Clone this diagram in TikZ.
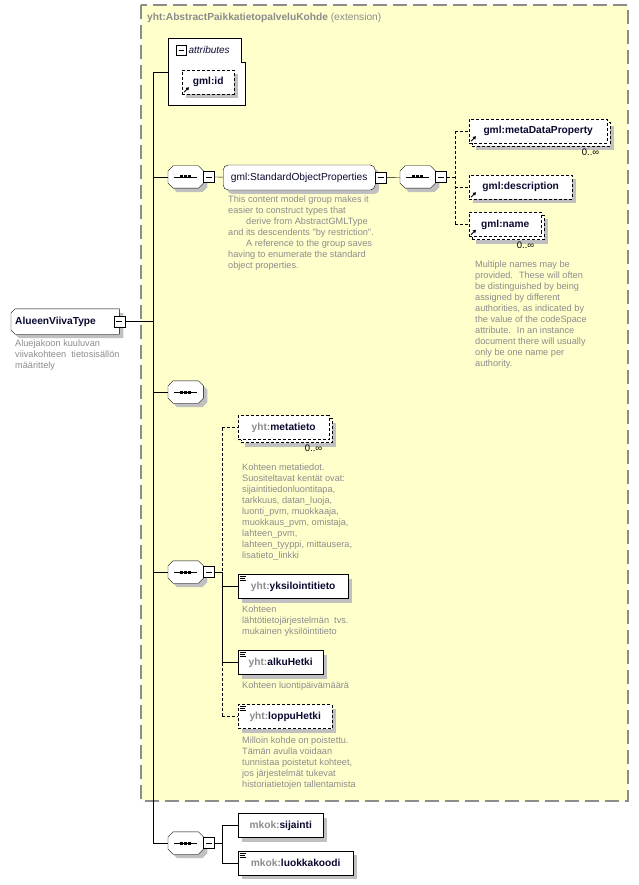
\documentclass[tikz,border=0pt]{standalone}
\usepackage{fontspec}
\setmainfont{Liberation Sans}
\newfontfamily\docfont{Liberation Sans}
\usetikzlibrary{shadows,arrows.meta}
\pgfdeclarelayer{bottom}
\pgfdeclarelayer{background}
\pgfsetlayers{bottom,background,main}
\definecolor{extyellow}{HTML}{FFFFCC}
\definecolor{extborder}{HTML}{8C8C8C}
\definecolor{shadowgray}{HTML}{C0C0C0}
\definecolor{docgray}{HTML}{8C8C8C}
\definecolor{prefixgray}{HTML}{8C8C8C}
\definecolor{namecol}{HTML}{0A0A30}
\newcommand{\pfx}[1]{\textcolor{prefixgray}{#1}}
\newcommand{\octpath}[2]{([xshift=#2]#1.north west) -- ([xshift=-#2]#1.north east) -- ([yshift=-#2]#1.north east)
  -- ([yshift=#2]#1.south east) -- ([xshift=-#2]#1.south east) -- ([xshift=#2]#1.south west)
  -- ([yshift=#2]#1.south west) -- ([yshift=-#2]#1.north west) -- cycle}
\tikzset{
  shadowed/.style={drop shadow={shadow xshift=4pt,shadow yshift=-4pt,fill=shadowgray,opacity=1}},
  multi/.style={drop shadow={shadow xshift=7pt,shadow yshift=-7pt,fill=shadowgray,opacity=1},
    copy shadow={shadow xshift=3pt,shadow yshift=-3pt,draw,fill=white,dash pattern=on 3pt off 2pt}},
  optional/.style={dash pattern=on 3pt off 2pt},
  elem/.style={draw,fill=white,anchor=west,minimum height=24pt,inner xsep=3pt,inner ysep=2pt,
    font=\fontsize{10.2}{12}\selectfont\bfseries,text=namecol},
  grp/.style={draw,fill=white,anchor=west,rounded corners=5pt,shadowed,minimum height=25pt,
    inner xsep=3pt,font=\fontsize{10.2}{12}\selectfont,text=namecol},
  typebox/.style={anchor=west,text width=100pt,align=left,inner xsep=4pt,minimum height=25pt,
    font=\fontsize{10.2}{12}\selectfont\bfseries,text=namecol},
  seqbox/.style={anchor=west,minimum width=35pt,minimum height=22pt,inner sep=0pt},
  minusbox/.style={draw,fill=white,minimum size=11pt,inner sep=0pt,anchor=west,
    path picture={\draw ([xshift=2.5pt]path picture bounding box.west) -- ([xshift=-2.5pt]path picture bounding box.east);}},
  doc/.style={anchor=north west,inner sep=0pt,align=left,font=\docfont\fontsize{9.2}{11}\selectfont,text=docgray},
  mult/.style={anchor=north east,inner sep=0pt,font=\fontsize{9.5}{11}\selectfont},
  refarrow/.style={line width=0.8pt,-{Triangle[length=3pt,width=3.5pt]}}
}
\begin{document}
\begin{tikzpicture}[x=1pt,y=-1pt,line width=0.9pt]
      \useasboundingbox (0,0) rectangle (639,885);
      \begin{pgfonlayer}{bottom}
            \draw[fill=extyellow,draw=extborder,line width=1.3pt,dash pattern=on 14pt off 6pt] (141,5) rectangle (628,801);
      \end{pgfonlayer}
      \node[anchor=west,inner sep=0pt,font=\fontsize{10.2}{12}\selectfont,text=prefixgray] (exttitle) at (147,18)
            {\textbf{yht:AbstractPaikkatietopalveluKohde} (extension)};

      \draw[fill=white] (168,38) -- (241,38) -- (241,62) -- (245,62) -- (245,105) -- (168,105) -- cycle;
      \node[minusbox,minimum size=10pt] (attrm) at (176,50) {};
      \node[anchor=west,inner sep=0pt,font=\fontsize{10}{12}\selectfont\itshape,text=namecol] (attrlbl) at ([xshift=2pt]attrm.east) {attributes};
      \coordinate (attr) at (168,72);
      \node[elem,optional,shadowed,minimum width=52pt] (gmlid) at (182,82) {gml:id};

      \node[typebox] (type) at (11,321.5) {AlueenViivaType};
      \node[doc] (typedoc) at (15,340) {Aluejakoon kuuluvan\\viivakohteen~ tietosisällön\\määrittely};

      \node[seqbox] (seq1) at (168,177) {};
      \node[seqbox] (seq1b) at (400,177) {};
      \node[seqbox] (seq2) at (168,392) {};
      \node[seqbox] (seq3) at (168,572) {};
      \node[seqbox] (seq4) at (168,843) {};
      \begin{pgfonlayer}{background}
            \fill[shadowgray,transform canvas={shift={(4pt,-4pt)}}] ([yshift=-4pt]type.north west) -- ([xshift=4pt]type.north west)
                  -- (type.north east) -- (type.south east) -- ([xshift=4pt]type.south west) -- ([yshift=4pt]type.south west) -- cycle;
            \draw[fill=white] ([yshift=-4pt]type.north west) -- ([xshift=4pt]type.north west)
                  -- (type.north east) -- (type.south east) -- ([xshift=4pt]type.south west) -- ([yshift=4pt]type.south west) -- cycle;
            \foreach \n in {seq1,seq1b,seq2,seq3,seq4} {
                  \fill[shadowgray,transform canvas={shift={(4pt,-4pt)}}] \octpath{\n}{5pt};
                  \draw[fill=white] \octpath{\n}{5pt};
                  \draw ([xshift=6pt]\n.west) -- ([xshift=-6pt]\n.east);
                  \foreach \d in {-4pt,0pt,4pt}
                        \fill ([xshift=\d]\n.center) +(-1.5pt,-1.5pt) rectangle +(1.5pt,1.5pt);
            }
      \end{pgfonlayer}
      \node[minusbox,anchor=center] (typem) at (type.east) {};
      \node[minusbox] (seq1m) at (seq1.east) {};
      \node[minusbox] (seq1bm) at (seq1b.east) {};
      \node[minusbox] (seq3m) at (seq3.east) {};
      \node[minusbox] (seq4m) at (seq4.east) {};

      \node[grp,minimum width=152pt] (group) at (223,177.5) {gml:StandardObjectProperties};
      \node[minusbox] (groupm) at (group.east) {};
      \node[doc] (groupdoc) at (228,196) {This content model group makes it\\easier to construct types that\\\hspace*{18pt}derive from AbstractGMLType\\and its descendents "by restriction".\\\hspace*{18pt}A reference to the group saves\\having to enumerate the standard\\object properties.};

      \node[elem,optional,multi,minimum width=138pt] (mdp) at (469,131) {gml:metaDataProperty};
      \node[mult] (mdpmult) at ([shift={(-8pt,-5pt)}]mdp.south east) {0..∞};
      \node[elem,optional,shadowed,minimum width=103pt] (desc) at (469,187) {gml:description};
      \node[elem,optional,multi,minimum width=72pt] (name) at (469,224.5) {gml:name};
      \node[mult] (namemult) at ([shift={(-7pt,-5pt)}]name.south east) {0..∞};
      \node[doc] (namedoc) at (475,261) {Multiple names may be\\provided.~ These will often\\be distinguished by being\\assigned by different\\authorities, as indicated by\\the value of the codeSpace\\attribute.~ In an instance\\document there will usually\\only be one name per\\authority.};

      \node[elem,optional,multi,minimum width=91pt] (meta) at (238,427.5) {\pfx{yht:}metatieto};
      \node[mult] (metamult) at ([shift={(-7pt,-5pt)}]meta.south east) {0..∞};
      \node[doc] (metadoc) at (242,464) {Kohteen metatiedot.\\Suositeltavat kentät ovat:\\sijaintitiedonluontitapa,\\tarkkuus, datan\_luoja,\\luonti\_pvm, muokkaaja,\\muokkaus\_pvm, omistaja,\\lahteen\_pvm,\\lahteen\_tyyppi, mittausera,\\lisatieto\_linkki};
      \node[elem,shadowed,minimum width=110pt] (yks) at (238,586.5) {\pfx{yht:}yksilointitieto};
      \node[doc] (yksdoc) at (242,606) {Kohteen\\lähtötietojärjestelmän~ tvs.\\mukainen yksilöintitieto};
      \node[elem,shadowed,minimum width=85pt] (alku) at (238,662.5) {\pfx{yht:}alkuHetki};
      \node[doc] (alkudoc) at (242,682) {Kohteen luontipäivämäärä};
      \node[elem,optional,shadowed,minimum width=94pt] (loppu) at (238,716.5) {\pfx{yht:}loppuHetki};
      \node[doc] (loppudoc) at (242,737) {Milloin kohde on poistettu.\\Tämän avulla voidaan\\tunnistaa poistetut kohteet,\\jos järjestelmät tukevat\\historiatietojen tallentamista};

      \node[elem,shadowed,minimum width=85pt] (sij) at (238,825.5) {\pfx{mkok:}sijainti};
      \node[elem,shadowed,minimum width=115pt] (luokka) at (238,863) {\pfx{mkok:}luokkakoodi};

      \foreach \n in {gmlid,mdp,desc,name}
            \draw[refarrow] ([shift={(2pt,2pt)}]\n.south west) -- ++(5pt,5pt);
      \foreach \n in {yks,alku,loppu,luokka}
            \foreach \k/\l in {2pt/6pt,4pt/5pt,6pt/6pt}
                  \draw[line width=0.6pt] ([xshift=1.5pt,yshift=-\k]\n.north west) -- ++(\l,0pt);

      \coordinate (trunktop) at (153,72);
      \coordinate (trunkbot) at (153,843);
      \draw (attr) -- (trunktop) -- (trunkbot) -- (seq4);
      \draw (typem) -- (typem -| trunktop);
      \foreach \n in {seq1,seq2,seq3}
            \draw (trunktop |- \n) -- (\n);
      \draw (seq1m) -- (group);
      \draw (groupm) -- (seq1b);

      \coordinate (rbr) at (455,177);
      \draw[optional] (seq1bm) -- (rbr);
      \draw[optional] (rbr |- mdp) -- (rbr |- name);
      \foreach \n in {mdp,desc,name}
            \draw[optional] (rbr |- \n) -- (\n);

      \coordinate (mbr) at (222,572);
      \draw (seq3m) -- (mbr);
      \draw[optional] (mbr |- meta) -- (mbr);
      \draw (mbr) -- (mbr |- alku);
      \draw[optional] (mbr |- alku) -- (mbr |- loppu);
      \draw[optional] (mbr |- meta) -- (meta);
      \draw (mbr |- yks) -- (yks);
      \draw (mbr |- alku) -- (alku);
      \draw[optional] (mbr |- loppu) -- (loppu);

      \coordinate (lbr) at (222,843);
      \draw (seq4m) -- (lbr);
      \draw (lbr |- sij) -- (lbr |- luokka);
      \draw (lbr |- sij) -- (sij);
      \draw (lbr |- luokka) -- (luokka);
\end{tikzpicture}
\end{document}
